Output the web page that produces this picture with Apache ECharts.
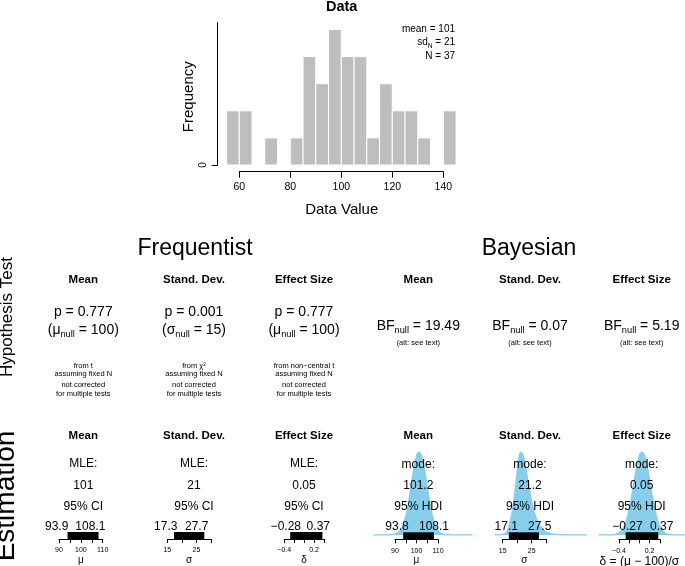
<!DOCTYPE html>
<html><head><meta charset="utf-8">
<script src="https://cdn.jsdelivr.net/npm/echarts@6/dist/echarts.min.js"></script>
<style>html,body{margin:0;padding:0;background:#fff}#c{width:685px;height:566px}</style>
</head><body><div id="c"></div>
<script>
// ---------------- data ----------------
const binStarts = [55,60,65,70,75,80,85,90,95,100,105,110,115,120,125,130,135,140];
const binWidth = 5;
const binCounts = [2,2,0,1,0,1,4,3,5,4,4,1,3,2,2,1,0,2];
const histTicks = [60,80,100,120,140];
const statMean = 101, statSd = 21, statN = 37;

const colHeaders = ['Mean','Stand. Dev.','Effect Size'];
const freqP = ['0.777','0.001','0.777'];
const freqNullSym = ['μ','σ','μ'];
const freqNullVal = ['100','15','100'];
const freqNoteFrom = ['from t','from χ²','from non−central t'];
const bayesBF = ['19.49','0.07','5.19'];

const freqMLE = ['101','21','0.05'];
const freqCILo = [93.9, 17.3, -0.28];
const freqCIHi = [108.1, 27.7, 0.37];
const bayesMode = ['101.2','21.2','0.05'];
const bayesHDILo = [93.8, 17.1, -0.27];
const bayesHDIHi = [108.1, 27.5, 0.37];

const axisTickVals = [[90,95,100,105,110],[15,20,25,30],[-0.4,-0.2,0,0.2,0.4]];
const axisLabelVals = [[90,100,110],[15,25],[-0.4,0.2]];
const freqAxisNames = ['μ','σ','δ'];
const bayesAxisNames = ['μ','σ','δ = (μ − 100)/σ'];

// posterior densities (relative height)
const postMeanX = [80,86,88,90,91,92,93,94,95,96,97,98,99,100,101.2,102,103,104,105,106,107,108,109,110,111,112,114,116,120,126];
const postMeanY = [0,0.001,0.003,0.009,0.02,0.04,0.075,0.135,0.22,0.34,0.5,0.67,0.83,0.95,1,0.975,0.88,0.74,0.57,0.41,0.27,0.17,0.095,0.05,0.025,0.013,0.004,0.0015,0.0003,0];
const postSdX = [12.3,15,16,17,18,19,20,20.6,21.2,22,23,24,25,26,27,28,29,30,32,35,40,44];
const postSdY = [0,0.005,0.02,0.08,0.22,0.45,0.75,0.92,1,0.96,0.8,0.58,0.4,0.26,0.16,0.1,0.06,0.035,0.013,0.004,0.001,0];
const postEsX = [-0.8,-0.55,-0.45,-0.4,-0.35,-0.3,-0.25,-0.2,-0.15,-0.1,-0.05,0,0.05,0.1,0.15,0.2,0.25,0.3,0.35,0.4,0.45,0.5,0.55,0.65,0.9];
const postEsY = [0,0.001,0.009,0.022,0.049,0.1,0.184,0.31,0.47,0.655,0.83,0.954,1,0.954,0.83,0.655,0.47,0.31,0.184,0.1,0.049,0.022,0.009,0.001,0];

// ---------------- layout ----------------
const FONT = '"Liberation Sans", Arial, Helvetica, sans-serif';
const SKY = '#87CEEB';
const freqMap = [{a:-137.65,b:2.185},{a:123.6,b:2.913},{a:304.1,b:49.6}];
const bayesMap = [{a:201.5,b:2.15},{a:459.2,b:2.9},{a:639.4,b:51}];
const freqColX = [83.3,194,304];
const bayesColX = [418.3,530,641.7];
const freqLoLabX = [56.7,165.8,285.8], freqHiLabX = [90.3,196.7,318.3];
const bayesLoLabX = [397,506.3,627.5], bayesHiLabX = [434,539.7,661.7];

const fmt = v => { const s = String(Math.round(v*1000)/1000); return s.replace('-', '−'); };

const grids = [], xAxes = [], yAxes = [], series = [], graphics = [];
function addGrid(g, xa, ya) {
  grids.push(Object.assign({outerBoundsMode:'none', containLabel:false}, g));
  const i = grids.length - 1;
  xAxes.push(Object.assign({gridIndex:i}, xa));
  yAxes.push(Object.assign({gridIndex:i}, ya));
  return i;
}
const hidden = (min, max) => ({type:'value', min, max, show:false, splitLine:{show:false}});
const axLine = {show:true, onZero:false, lineStyle:{color:'#000', width:1}};

// histogram
const hg = addGrid({left:239.3, top:22.7, width:204, height:142.3},
  {type:'value', min:60, max:140, interval:20, offset:6.7, axisLine:axLine,
   axisTick:{show:true, length:6, customValues:histTicks, lineStyle:{color:'#000'}},
   axisLabel:{show:true, customValues:histTicks, fontSize:10.5, fontFamily:FONT, color:'#000', margin:10},
   splitLine:{show:false}},
  {type:'value', min:0, max:5.25, offset:21.6, axisLine:axLine,
   axisTick:{show:true, length:6, customValues:[0], lineStyle:{color:'#000'}},
   axisLabel:{show:true, customValues:[0], rotate:90, fontSize:10, fontFamily:FONT, color:'#000', margin:9},
   splitLine:{show:false}});
series.push({type:'custom', xAxisIndex:hg, yAxisIndex:hg, clip:false, silent:true,
  data: binStarts.map((s,i)=>[s, s+binWidth, binCounts[i]]),
  encode:{x:[0,1], y:2},
  renderItem(params, api){
    const c = api.value(2);
    if (!c) return {type:'group', children:[]};
    const p0 = api.coord([api.value(0), c]);
    const p1 = api.coord([api.value(1), 0]);
    return {type:'rect', shape:{x:p0[0], y:p0[1], width:p1[0]-p0[0], height:p1[1]-p0[1]},
      style:{fill:'#BEBEBE', stroke:'#FFFFFF', lineWidth:1}};
  }});

function smallAxis(k, name, nameSize, nameGap) {
  const t = axisTickVals[k];
  return {type:'value', min:t[0], max:t[t.length-1], axisLine:axLine,
    axisTick:{show:true, length:4, customValues:t, lineStyle:{color:'#000'}},
    axisLabel:{show:true, customValues:axisLabelVals[k], fontSize:7, fontFamily:FONT, color:'#000', margin:8, formatter:fmt},
    splitLine:{show:false},
    name, nameLocation:'middle', nameGap, nameTextStyle:{fontSize:nameSize, fontFamily:FONT, color:'#000'}};
}
function ciBar(gi, lo, hi) {
  return {type:'custom', xAxisIndex:gi, yAxisIndex:gi, clip:false, silent:true, z:5,
    data:[[lo, hi, 0, 1]], encode:{x:[0,1], y:[2,3]},
    renderItem(params, api){
      const p0 = api.coord([api.value(0), api.value(3)]);
      const p1 = api.coord([api.value(1), api.value(2)]);
      return {type:'rect', shape:{x:p0[0], y:p0[1], width:p1[0]-p0[0], height:p1[1]-p0[1]}, style:{fill:'#000'}};
    }};
}
const postX = [postMeanX, postSdX, postEsX];
const postY = [postMeanY, postSdY, postEsY];

for (let k = 0; k < 3; k++) {
  const t = axisTickVals[k], tmin = t[0], tmax = t[t.length-1];
  // frequentist CI axis
  const fm = freqMap[k];
  const fg = addGrid({left:fm.a + fm.b*tmin, width:fm.b*(tmax-tmin), top:532, height:7},
    smallAxis(k, freqAxisNames[k], 10, 16.5), hidden(0,1));
  series.push(ciBar(fg, freqCILo[k], freqCIHi[k]));
  // bayesian density
  const bm = bayesMap[k], px = postX[k], x0 = px[0], x1 = px[px.length-1];
  const dg = addGrid({left:bm.a + bm.b*x0, width:bm.b*(x1-x0), top:452, height:83}, hidden(x0,x1), hidden(0,1));
  series.push({type:'line', xAxisIndex:dg, yAxisIndex:dg, silent:true, z:2,
    data: px.map((x,i)=>[x, postY[k][i]]), showSymbol:false, smooth:0.3,
    lineStyle:{color:SKY, width:1.5}, areaStyle:{color:SKY, opacity:1}});
  // bayesian HDI axis
  const bg = addGrid({left:bm.a + bm.b*tmin, width:bm.b*(tmax-tmin), top:532.3, height:7},
    smallAxis(k, bayesAxisNames[k], k === 2 ? 12 : 10, k === 2 ? 12.5 : 15.5), hidden(0,1));
  series.push(ciBar(bg, bayesHDILo[k], bayesHDIHi[k]));
}

// ---------------- texts ----------------
function txt(x, y, text, size, opt) {
  opt = opt || {};
  const align = opt.align || 'center';
  const style = {text, x:0, y:0, fontSize:size, fontFamily:FONT, fontWeight:opt.bold?'bold':'normal', fill:'#000',
    align, textAlign:align, verticalAlign:'middle', textVerticalAlign:'middle'};
  if (opt.rich) style.rich = opt.rich;
  graphics.push({type:'text', x, y, rotation:opt.rot||0, z:100, silent:true, style});
}
function subRich(size) {
  return {s:{fontSize:size*0.66, fontFamily:FONT, fill:'#000', padding:[size*0.6,0,0,0]}};
}
const rot = Math.PI/2;

txt(341.7, 7, 'Data', 14.5, {bold:true});
txt(455, 29.3, 'mean = ' + statMean, 10, {align:'right'});
txt(455, 42.7, 'sd{s|N} = ' + statSd, 10, {align:'right', rich:subRich(10)});
txt(455, 56, 'N = ' + statN, 10, {align:'right'});
txt(188.5, 96.7, 'Frequency', 15, {rot});
txt(341.7, 210, 'Data Value', 15);

txt(195, 248.3, 'Frequentist', 23);
txt(529, 248.3, 'Bayesian', 23);
txt(7.5, 317, 'Hypothesis Test', 17, {rot});
txt(6, 496, 'Estimation', 28, {rot});

const noteY = [365.5, 373.5, 385, 394];
for (let k = 0; k < 3; k++) {
  // hypothesis test row
  txt(freqColX[k], 280, colHeaders[k], 11.5, {bold:true});
  txt(bayesColX[k], 280, colHeaders[k], 11.5, {bold:true});
  txt(freqColX[k], 311.7, 'p = ' + freqP[k], 14);
  txt(freqColX[k], 330, '(' + freqNullSym[k] + '{s|null} = ' + freqNullVal[k] + ')', 14, {rich:subRich(14)});
  const notes = [freqNoteFrom[k], 'assuming fixed N', 'not corrected', 'for multiple tests'];
  notes.forEach((n,i)=>txt(freqColX[k], noteY[i], n, 7.5));
  txt(bayesColX[k], 326, 'BF{s|null} = ' + bayesBF[k], 14, {rich:subRich(14)});
  txt(bayesColX[k], 342.7, '(alt: see text)', 7.5);
  // estimation row
  txt(freqColX[k], 436, colHeaders[k], 11.5, {bold:true});
  txt(bayesColX[k], 436, colHeaders[k], 11.5, {bold:true});
  txt(freqColX[k], 464, 'MLE:', 12);
  txt(freqColX[k], 485.5, freqMLE[k], 12);
  txt(freqColX[k], 506.5, '95% CI', 12);
  txt(freqLoLabX[k], 526.5, fmt(freqCILo[k]), 12);
  txt(freqHiLabX[k], 526.5, fmt(freqCIHi[k]), 12);
  txt(bayesColX[k], 465, 'mode:', 12);
  txt(bayesColX[k], 485.5, bayesMode[k], 12);
  txt(bayesColX[k], 506.5, '95% HDI', 12);
  txt(bayesLoLabX[k], 526.5, fmt(bayesHDILo[k]), 12);
  txt(bayesHiLabX[k], 526.5, fmt(bayesHDIHi[k]), 12);
}

const chart = echarts.init(document.getElementById('c'), null, {renderer:'canvas', width:685, height:566});
chart.setOption({
  animation:false,
  backgroundColor:'#ffffff',
  textStyle:{fontFamily:FONT},
  grid:grids, xAxis:xAxes, yAxis:yAxes, series, graphic:{elements:graphics}
});
</script></body></html>
